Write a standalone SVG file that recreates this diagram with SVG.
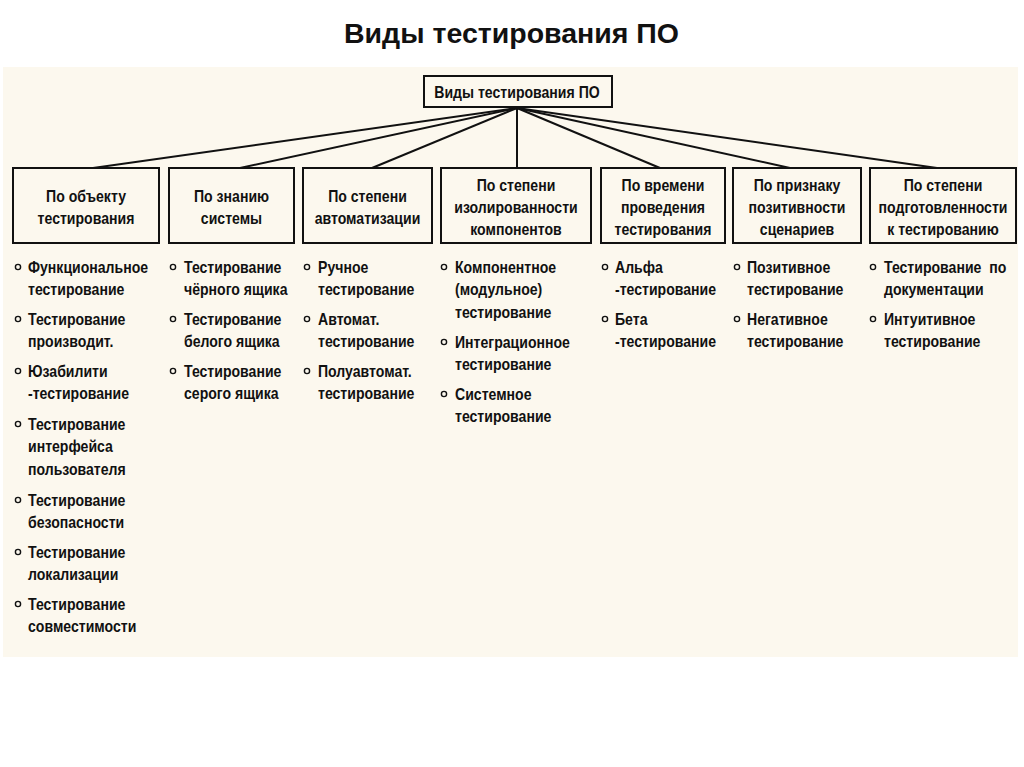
<svg xmlns="http://www.w3.org/2000/svg" width="1024" height="767" viewBox="0 0 1024 767">
<style>
.t{font-family:"Liberation Sans",Arial,sans-serif;font-weight:bold;font-size:16px;fill:#111}
.c{text-anchor:middle}
.box{fill:#FCF8EE;stroke:#111;stroke-width:2}
.ln{stroke:#111;stroke-width:2;fill:none}
.b{fill:none;stroke:#111;stroke-width:1.4}
</style>
<rect width="1024" height="767" fill="#ffffff"/>
<rect x="3" y="67" width="1015" height="590" fill="#FCF8EE"/>
<text x="511.5" y="43" style="font-family:'Liberation Sans',Arial,sans-serif;font-weight:bold;font-size:28.5px;text-anchor:middle" fill="#111">Виды тестирования ПО</text>

<g id="connectors">
<line class="ln" x1="517" y1="108" x2="93" y2="168"/>
<line class="ln" x1="517" y1="108" x2="240" y2="168"/>
<line class="ln" x1="517" y1="108" x2="372" y2="168"/>
<line class="ln" x1="517" y1="108" x2="517" y2="168"/>
<line class="ln" x1="517" y1="108" x2="660" y2="168"/>
<line class="ln" x1="517" y1="108" x2="790" y2="168"/>
<line class="ln" x1="517" y1="108" x2="937" y2="168"/>
</g>

<g id="root">
<rect class="box" x="424" y="76" width="188" height="31"/>
<g transform="translate(517 0) scale(0.88 1)"><text class="t c" x="0" y="98">Виды тестирования ПО</text></g>
</g>

<g id="n1">
<rect class="box" x="13" y="168" width="146" height="75"/>
<g transform="translate(86 0) scale(0.88 1)" class="t c"><text class="t c" x="0" y="202.5">По объекту</text><text class="t c" x="0" y="224.5">тестирования</text></g>
<circle class="b" cx="18" cy="267" r="2.6"/><circle class="b" cx="18" cy="319" r="2.6"/><circle class="b" cx="18" cy="371" r="2.6"/><circle class="b" cx="18" cy="424" r="2.6"/><circle class="b" cx="18" cy="500" r="2.6"/><circle class="b" cx="18" cy="552" r="2.6"/><circle class="b" cx="18" cy="604" r="2.6"/>
<g transform="translate(28 0) scale(0.88 1)">
<text class="t" x="0" y="273">Функциональное</text><text class="t" x="0" y="295.5">тестирование</text>
<text class="t" x="0" y="325">Тестирование</text><text class="t" x="0" y="347.5">производит.</text>
<text class="t" x="0" y="377">Юзабилити</text><text class="t" x="0" y="399.5">-тестирование</text>
<text class="t" x="0" y="430">Тестирование</text><text class="t" x="0" y="452.5">интерфейса</text><text class="t" x="0" y="475">пользователя</text>
<text class="t" x="0" y="506">Тестирование</text><text class="t" x="0" y="528.5">безопасности</text>
<text class="t" x="0" y="558">Тестирование</text><text class="t" x="0" y="580.5">локализации</text>
<text class="t" x="0" y="610">Тестирование</text><text class="t" x="0" y="632.5">совместимости</text>
</g>
</g>

<g id="n2">
<rect class="box" x="169" y="168" width="125" height="75"/>
<g transform="translate(231.5 0) scale(0.88 1)"><text class="t c" x="0" y="202.5">По знанию</text><text class="t c" x="0" y="224.5">системы</text></g>
<circle class="b" cx="173" cy="267" r="2.6"/><circle class="b" cx="173" cy="319" r="2.6"/><circle class="b" cx="173" cy="371" r="2.6"/>
<g transform="translate(184 0) scale(0.88 1)">
<text class="t" x="0" y="273">Тестирование</text><text class="t" x="0" y="295.5">чёрного ящика</text>
<text class="t" x="0" y="325">Тестирование</text><text class="t" x="0" y="347.5">белого ящика</text>
<text class="t" x="0" y="377">Тестирование</text><text class="t" x="0" y="399.5">серого ящика</text>
</g>
</g>

<g id="n3">
<rect class="box" x="303" y="168" width="129" height="75"/>
<g transform="translate(367.5 0) scale(0.88 1)"><text class="t c" x="0" y="202.5">По степени</text><text class="t c" x="0" y="224.5">автоматизации</text></g>
<circle class="b" cx="307" cy="267" r="2.6"/><circle class="b" cx="307" cy="319" r="2.6"/><circle class="b" cx="307" cy="371" r="2.6"/>
<g transform="translate(318 0) scale(0.88 1)">
<text class="t" x="0" y="273">Ручное</text><text class="t" x="0" y="295.5">тестирование</text>
<text class="t" x="0" y="325">Автомат.</text><text class="t" x="0" y="347.5">тестирование</text>
<text class="t" x="0" y="377">Полуавтомат.</text><text class="t" x="0" y="399.5">тестирование</text>
</g>
</g>

<g id="n4">
<rect class="box" x="441" y="168" width="150" height="75"/>
<g transform="translate(516 0) scale(0.88 1)"><text class="t c" x="0" y="191">По степени</text><text class="t c" x="0" y="213">изолированности</text><text class="t c" x="0" y="235">компонентов</text></g>
<circle class="b" cx="444" cy="267" r="2.6"/><circle class="b" cx="444" cy="342" r="2.6"/><circle class="b" cx="444" cy="394" r="2.6"/>
<g transform="translate(455 0) scale(0.88 1)">
<text class="t" x="0" y="273">Компонентное</text><text class="t" x="0" y="295.5">(модульное)</text><text class="t" x="0" y="318">тестирование</text>
<text class="t" x="0" y="348">Интеграционное</text><text class="t" x="0" y="370.5">тестирование</text>
<text class="t" x="0" y="400">Системное</text><text class="t" x="0" y="422.5">тестирование</text>
</g>
</g>

<g id="n5">
<rect class="box" x="601" y="168" width="124" height="75"/>
<g transform="translate(663 0) scale(0.88 1)"><text class="t c" x="0" y="191">По времени</text><text class="t c" x="0" y="213">проведения</text><text class="t c" x="0" y="235">тестирования</text></g>
<circle class="b" cx="605" cy="267" r="2.6"/><circle class="b" cx="605" cy="319" r="2.6"/>
<g transform="translate(615 0) scale(0.88 1)">
<text class="t" x="0" y="273">Альфа</text><text class="t" x="0" y="295.5">-тестирование</text>
<text class="t" x="0" y="325">Бета</text><text class="t" x="0" y="347.5">-тестирование</text>
</g>
</g>

<g id="n6">
<rect class="box" x="733" y="168" width="128" height="75"/>
<g transform="translate(797 0) scale(0.88 1)"><text class="t c" x="0" y="191">По признаку</text><text class="t c" x="0" y="213">позитивности</text><text class="t c" x="0" y="235">сценариев</text></g>
<circle class="b" cx="737" cy="267" r="2.6"/><circle class="b" cx="737" cy="319" r="2.6"/>
<g transform="translate(747 0) scale(0.88 1)">
<text class="t" x="0" y="273">Позитивное</text><text class="t" x="0" y="295.5">тестирование</text>
<text class="t" x="0" y="325">Негативное</text><text class="t" x="0" y="347.5">тестирование</text>
</g>
</g>

<g id="n7">
<rect class="box" x="870" y="168" width="146" height="75"/>
<g transform="translate(943 0) scale(0.88 1)"><text class="t c" x="0" y="191">По степени</text><text class="t c" x="0" y="213">подготовленности</text><text class="t c" x="0" y="235">к тестированию</text></g>
<circle class="b" cx="873" cy="267" r="2.6"/><circle class="b" cx="873" cy="319" r="2.6"/>
<g transform="translate(884 0) scale(0.88 1)">
<text class="t" x="0" y="273" xml:space="preserve">Тестирование  по</text><text class="t" x="0" y="295.5">документации</text>
<text class="t" x="0" y="325">Интуитивное</text><text class="t" x="0" y="347.5">тестирование</text>
</g>
</g>
</svg>
